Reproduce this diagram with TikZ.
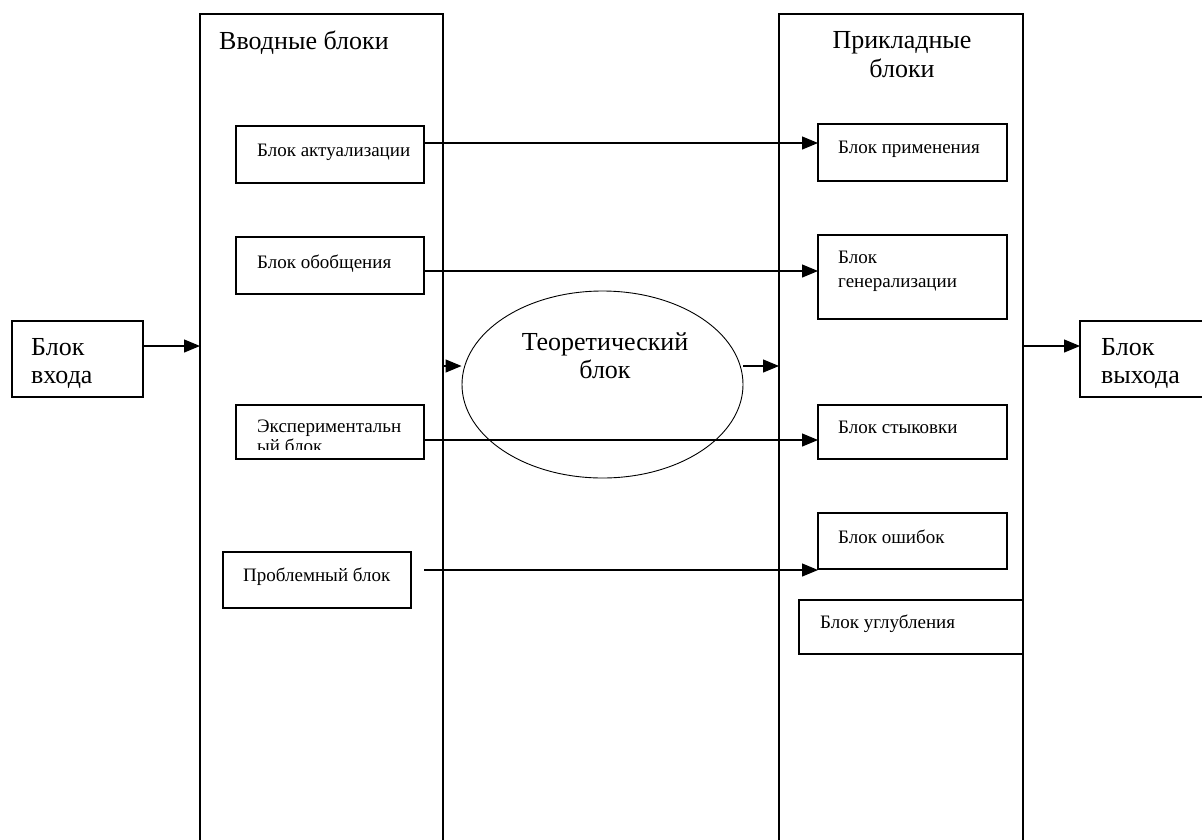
\documentclass[tikz,border=0pt]{standalone}
\usepackage{fontspec}
\setmainfont{Liberation Serif}
\usetikzlibrary{arrows.meta,shapes.geometric}
\begin{document}
\begin{tikzpicture}[x=1pt,y=-1pt,
  ln/.style={line width=1.2pt},
  box/.style={ln,draw,rectangle,inner sep=0pt,outer sep=0pt},
  arr/.style={ln,-{Triangle[length=16pt,width=13pt]}},
  big/.style={inner sep=0pt,font=\fontsize{26}{28}\selectfont,align=left},
  sml/.style={inner sep=0pt,font=\fontsize{19}{21}\selectfont,align=left}]
\useasboundingbox (0,0) rectangle (1202,839);
\clip (0,0) rectangle (1202,839);
% columns
\node[box,minimum width=243pt,minimum height=886pt] (lcol) at (321.5,457) {};
\node[box,minimum width=244pt,minimum height=886pt] (rcol) at (901,457) {};
% input / output
\node[box,minimum width=131pt,minimum height=76pt] (vhod) at (77.5,359) {};
\node[box,minimum width=150pt,minimum height=76pt] (vyhod) at (1155,359) {};
% left blocks
\node[box,minimum width=188pt,minimum height=57pt] (akt) at (330,154.5) {};
\node[box,minimum width=188pt,minimum height=57pt] (obob) at (330,265.5) {};
\node[box,minimum width=188pt,minimum height=54pt] (exp) at (330,432) {};
\node[box,minimum width=188pt,minimum height=56pt] (prob) at (317,580) {};
% right blocks
\node[box,minimum width=189pt,minimum height=57pt] (prim) at (912.5,152.5) {};
\node[box,minimum width=189pt,minimum height=84pt] (gen) at (912.5,277) {};
\node[box,minimum width=189pt,minimum height=54pt] (styk) at (912.5,432) {};
\node[box,minimum width=189pt,minimum height=56pt] (osh) at (912.5,541) {};
\node[box,minimum width=224pt,minimum height=54pt] (uglub) at (911,627) {};
% ellipse
\node[draw,line width=0.9pt,ellipse,minimum width=281pt,minimum height=187pt,inner sep=0pt] (ell) at (602.5,384.5) {};
% labels (base = baseline of last line)
\node[big,anchor=base west] (tvhod) at (31,383) {Блок\\входа};
\node[big,anchor=base west] (tvyhod) at (1101,383) {Блок\\выхода};
\node[big,anchor=base west] (tlcol) at (219,49) {Вводные блоки};
\node[big,anchor=base,align=center,font=\fontsize{26}{29}\selectfont] (trcol) at (902,77) {Прикладные\\блоки};
\node[big,anchor=base,align=center] (tell) at (605,378) {Теоретический\\блок};
\node[sml,anchor=base west] (takt) at (257,156) {Блок актуализации};
\node[sml,anchor=base west] (tobob) at (257,268) {Блок обобщения};
\begin{scope}
\clip (236,405) rectangle (424,449);
\node[sml,anchor=base west,font=\fontsize{19}{20}\selectfont] (texp) at (257,452) {Экспериментальн\\ый блок};
\end{scope}
\node[sml,anchor=base west] (tprob) at (243,581) {Проблемный блок};
\node[sml,anchor=base west] (tprim) at (838,153) {Блок применения};
\node[sml,anchor=base west,font=\fontsize{19}{24}\selectfont] (tgen) at (838,287) {Блок\\генерализации};
\node[sml,anchor=base west] (tstyk) at (838,433) {Блок стыковки};
\node[sml,anchor=base west] (tosh) at (838,543) {Блок ошибок};
\node[sml,anchor=base west] (tuglub) at (820,628) {Блок углубления};
% helper coordinates
\coordinate (y346) at (0,346);
\coordinate (y143) at (0,143);
\coordinate (y271) at (0,271);
\coordinate (y440) at (0,440);
\coordinate (y366) at (0,366);
\coordinate (pstart) at (424,570);
% connectors
\draw[arr] (vhod.east |- y346) -- (lcol.west |- y346);
\draw[arr] (akt.east |- y143) -- (prim.west |- y143);
\draw[arr] (obob.east |- y271) -- (gen.west |- y271);
\draw[arr] (exp.east |- y440) -- (styk.west |- y440);
\draw[arr] (pstart) -- (osh.west |- pstart);
\draw[arr] (lcol.east |- y366) -- (ell.west |- y366);
\draw[arr] (ell.east |- y366) -- (rcol.west |- y366);
\draw[arr] (rcol.east |- y346) -- (vyhod.west |- y346);
\end{tikzpicture}
\end{document}
